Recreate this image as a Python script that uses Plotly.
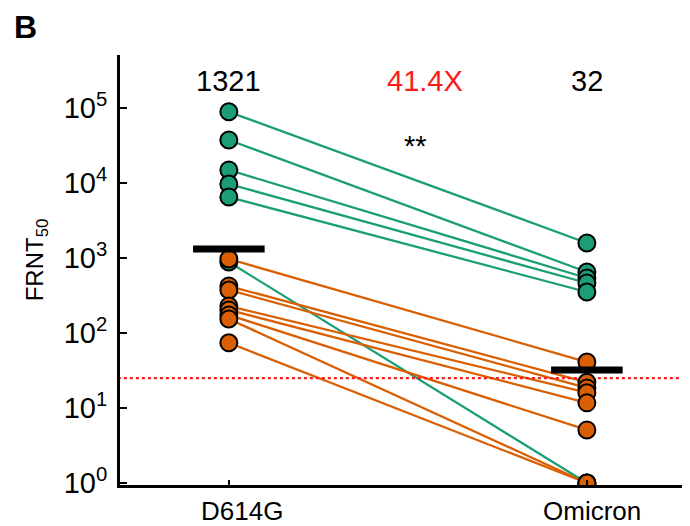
import plotly.graph_objects as go

groups = ["D614G", "Omicron"]

# paired FRNT50 titers
d614g_green = [89000, 37500, 14900, 9700, 6500, 885]
omicron_green = [1585, 650, 541, 464, 352, 1]
d614g_orange = [970, 423, 375, 229, 203, 174, 154, 74]
omicron_orange = [41, 22, 18.5, 16, 11.7, 5.1, 1, 1]

gmt = [1321, 32]
fold_label = "41.4X"
lod = 25

green = "#1b9e77"
orange = "#d95f02"
red = "#ff1a1a"
font = "Liberation Sans, Arial, sans-serif"

fig = go.Figure()

def add_pairs(a, b, color):
    for va, vb in zip(a, b):
        fig.add_trace(go.Scatter(
            x=[0, 1], y=[va, vb], mode="lines",
            line=dict(color=color, width=2.3),
            hoverinfo="skip", showlegend=False
        ))

add_pairs(d614g_green, omicron_green, green)
add_pairs(d614g_orange, omicron_orange, orange)

# limit of detection
fig.add_trace(go.Scatter(
    x=[-0.31, 1.3], y=[lod, lod], mode="lines",
    line=dict(color=red, width=2.3, dash="dot"),
    showlegend=False, hoverinfo="skip"
))

def add_points(a, b, color):
    fig.add_trace(go.Scatter(
        x=[0] * len(a) + [1] * len(b), y=list(a) + list(b),
        mode="markers",
        marker=dict(color=color, size=17, line=dict(color="black", width=2)),
        showlegend=False
    ))

add_points(d614g_green, omicron_green, green)
add_points(d614g_orange, omicron_orange, orange)

# geometric mean bars
for i, g in enumerate(gmt):
    fig.add_trace(go.Scatter(
        x=[i - 0.1, i + 0.1], y=[g, g], mode="lines",
        line=dict(color="black", width=7),
        showlegend=False, hoverinfo="skip"
    ))

# numbers above the columns
for i, g in enumerate(gmt):
    fig.add_annotation(x=i, y=5.36, text=str(g), showarrow=False,
                       font=dict(size=29, color="black"))
fig.add_annotation(x=0.547, y=5.36, text=fold_label, showarrow=False,
                   font=dict(size=29, color=red))
fig.add_annotation(x=0.522, y=4.50, text="**", showarrow=False,
                   font=dict(size=29, color="black"))

# category labels
for xpos, name in zip([0.036, 1.014], groups):
    fig.add_annotation(x=xpos, y=-0.06, yref="paper", text=name,
                       showarrow=False, yanchor="middle", borderpad=0,
                       font=dict(size=26, color="black"))

# y title and panel letter
fig.add_annotation(x=-0.147, y=0.523, xref="paper", yref="paper",
                   xanchor="center", yanchor="middle",
                   text="FRNT<sub>50</sub>", textangle=-90, showarrow=False,
                   font=dict(size=24, color="black"))
fig.add_annotation(x=-0.165, y=1.064, xref="paper", yref="paper",
                   xanchor="center", yanchor="middle", borderpad=0,
                   text="<b>B</b>", showarrow=False,
                   font=dict(size=32, color="black"))

tick_vals = [10 ** k for k in range(6)]
tick_text = [f"10<sup>{k}</sup>" for k in range(6)]

fig.update_layout(
    width=682, height=518,
    margin=dict(l=112, r=0, t=47, b=41),
    plot_bgcolor="white", paper_bgcolor="white",
    font=dict(family=font, color="black"),
    xaxis=dict(
        range=[-0.304, 1.288], tickvals=[0, 1], showticklabels=False,
        showgrid=False, zeroline=False, showline=True,
        linecolor="black", linewidth=3,
        ticks="inside", ticklen=5, tickwidth=2, tickcolor="black"
    ),
    yaxis=dict(
        type="log", range=[-0.027, 5.707],
        tickvals=tick_vals, ticktext=tick_text,
        showgrid=False, zeroline=False, showline=True,
        linecolor="black", linewidth=3,
        ticks="inside", ticklen=7, tickwidth=2, tickcolor="black",
        tickfont=dict(size=29), ticklabelstandoff=4
    )
)

fig.write_html("out.html")
